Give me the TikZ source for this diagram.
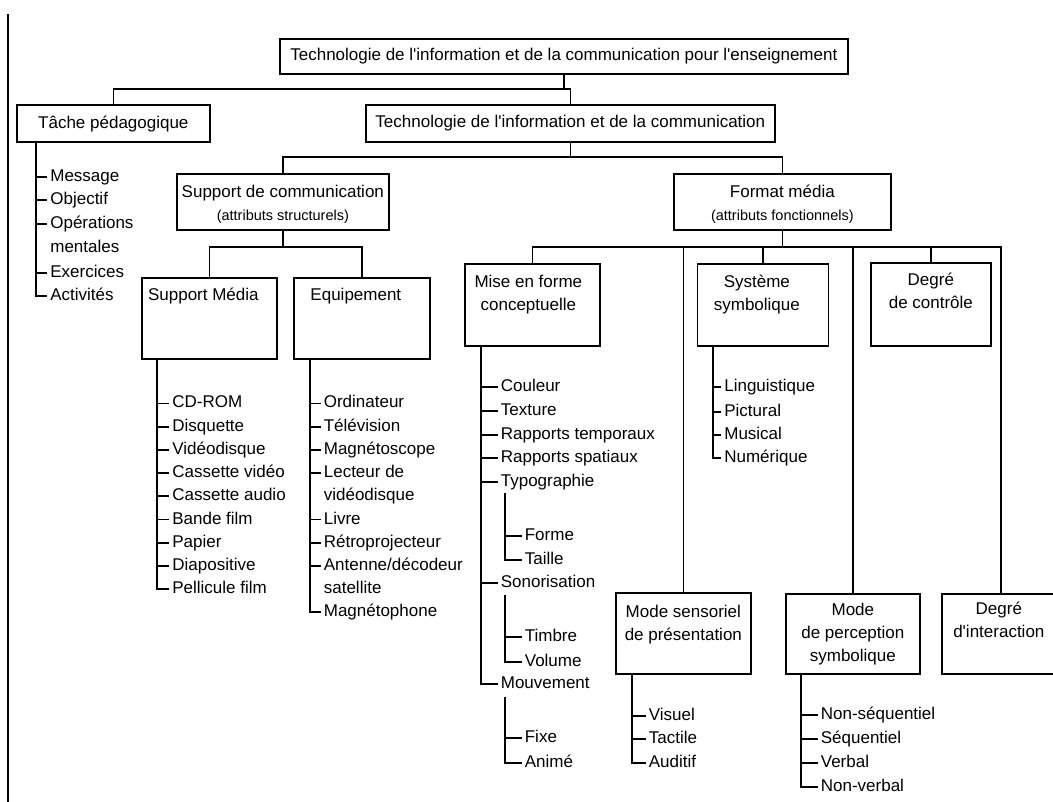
\documentclass[tikz,border=0pt]{standalone}
\usepackage{fontspec}
\setmainfont{Liberation Sans}
\usetikzlibrary{positioning}

\begin{document}
\begin{tikzpicture}[
  x=1pt, y=-1pt,
  line width=1.7pt,
  boite/.style={
    draw,
    rectangle,
    inner sep=0pt,
    anchor=north west,
    font=\fontsize{17}{23}\selectfont
  },
  titre/.style={
    align=center,
    inner sep=0pt,
    font=\fontsize{17}{23}\selectfont
  },
  item/.style={
    anchor=west,
    inner xsep=2.5pt,
    inner ysep=0pt,
    text height=12.5pt,
    text depth=3.5pt,
    font=\fontsize{17}{23}\selectfont
  }
]
\fill[white] (0,0) rectangle (1053,802);
\useasboundingbox (0,0) rectangle (1053,802);
\clip (0,0) rectangle (1053,802);

\draw (8,14) -- (8,802);

% boites
\node[boite, minimum width=568pt, minimum height=35pt] (tice) at (279,38)
  {Technologie de l\textquotesingle information et de la communication pour l\textquotesingle enseignement};
\node[boite, minimum width=193pt, minimum height=37.5pt] (tache) at (16,104) {Tâche pédagogique};
\node[boite, minimum width=409pt, minimum height=37.5pt] (tic) at (365,104)
  {Technologie de l\textquotesingle information et de la communication};
\node[boite, minimum width=212pt, minimum height=56pt] (support) at (176,173) {};
\node[boite, minimum width=217pt, minimum height=56pt] (format) at (673,173) {};
\node[boite, minimum width=135pt, minimum height=81pt] (media) at (141,277) {};
\node[boite, minimum width=136pt, minimum height=81pt] (equip) at (293,277) {};
\node[boite, minimum width=135pt, minimum height=82pt] (mise) at (464,263) {};
\node[boite, minimum width=131pt, minimum height=82pt] (systeme) at (696.5,263) {};
\node[boite, minimum width=120pt, minimum height=83pt] (controle) at (870,262) {};
\node[boite, minimum width=135pt, minimum height=81pt] (sensoriel) at (615,592) {};
\node[boite, minimum width=134pt, minimum height=80pt] (perception) at (785,593) {};
\node[boite, minimum width=118pt, minimum height=80pt] (interaction) at (941,593) {};

% textes des boites
\node[titre, below=11pt of support.north] (support-t)
  {Support de communication\\{\fontsize{14.5}{23}\selectfont (attributs structurels)}};
\node[titre, below=11pt of format.north] (format-t)
  {Format média\\{\fontsize{14.5}{23}\selectfont (attributs fonctionnels)}};
\node[titre, below=10pt of media.north, xshift=-6pt] (media-t) {Support Média};
\node[titre, below=10pt of equip.north, xshift=-6pt] (equip-t) {Equipement};
\node[titre, below=11pt of mise.north, xshift=-4pt] (mise-t) {Mise en forme\\conceptuelle};
\node[titre, below=11pt of systeme.north, xshift=-6pt] (systeme-t) {Système\\symbolique};
\node[titre, below=10pt of controle.north] (controle-t) {Degré\\de contrôle};
\node[titre, below=12pt of sensoriel.north] (sensoriel-t) {Mode sensoriel\\de présentation};
\node[titre, below=9pt of perception.north] (perception-t) {Mode\\de perception\\symbolique};
\node[titre, below=8pt of interaction.north, xshift=-2pt] (interaction-t)
  {Degré\\d\textquotesingle interaction};

% arbre
\coordinate (r1) at (0,89.3);
\coordinate (r2) at (0,157);
\coordinate (r3) at (0,247);
\draw (tice.south) -- (tice.south |- r1);
\draw (tache.north) |- (tic.north |- r1) -- (tic.north);
\draw (tic.south) -- (tic.south |- r2);
\draw (support.north) |- (format.north |- r2) -- (format.north);
\draw (support.south) -- (support.south |- r3);
\draw (media.north) |- (equip.north |- r3) -- (equip.north);
\draw (format.south) -- (format.south |- r3);
\draw (mise.north) |- (interaction.north |- r3) -- (interaction.north);
\foreach \b in {sensoriel, systeme, perception, controle}
  \draw (\b.north |- r3) -- (\b.north);

% Tache pedagogique
\coordinate (tache-b) at ([xshift=19.7pt]tache.south west);
\foreach \n/\y/\t in {1/176.7/Message, 2/200/Objectif, 3/224/Opérations, 4/248/mentales,
  5/272.7/Exercices, 6/296/Activités}
  \node[item] (tache-\n) at (47,\y) {\t};
\draw (tache-b) |- (tache-6.west);
\foreach \n in {1,2,3,5}
  \draw (tache-\n.west) -- (tache-\n.west -| tache-b);

% Support Media
\coordinate (media-b) at ([xshift=15.7pt]media.south west);
\foreach \t [count=\n] in {CD-ROM, Disquette, Vidéodisque, Cassette vidéo, Cassette audio,
  Bande film, Papier, Diapositive, Pellicule film}
  \node[item] (media-\n) at (169,{403.5+23.2*(\n-1)}) {\t};
\draw (media-b) |- (media-9.west);
\foreach \n in {1,...,8}
  \draw (media-\n.west) -- (media-\n.west -| media-b);

% Equipement
\coordinate (equip-b) at ([xshift=17pt]equip.south west);
\foreach \t [count=\n] in {Ordinateur, Télévision, Magnétoscope, Lecteur de, vidéodisque,
  Livre, Rétroprojecteur, Antenne/décodeur, satellite, Magnétophone}
  \node[item] (equip-\n) at (320.5,{403.5+23.2*(\n-1)}) {\t};
\draw (equip-b) |- (equip-10.west);
\foreach \n in {1,2,3,4,6,7,8}
  \draw (equip-\n.west) -- (equip-\n.west -| equip-b);

% Mise en forme conceptuelle
\coordinate (mise-b) at ([xshift=17pt]mise.south west);
\foreach \n/\y/\t in {1/387/Couleur, 2/411/Texture, 3/435/Rapports temporaux,
  4/458/Rapports spatiaux, 5/482/Typographie, 6/583/Sonorisation, 7/684/Mouvement}
  \node[item] (mise-\n) at (497.5,\y) {\t};
\draw (mise-b) |- (mise-7.west);
\foreach \n in {1,...,6}
  \draw (mise-\n.west) -- (mise-\n.west -| mise-b);

\foreach \n/\y/\t in {1/536/Forme, 2/560/Taille}
  \node[item] (typo-\n) at (521.5,\y) {\t};
\coordinate (typo-b) at (505,493);
\draw (typo-b) |- (typo-2.west);
\draw (typo-1.west) -- (typo-1.west -| typo-b);

\foreach \n/\y/\t in {1/637/Timbre, 2/662/Volume}
  \node[item] (sono-\n) at (521.5,\y) {\t};
\coordinate (sono-b) at (505,595);
\draw (sono-b) |- (sono-2.west);
\draw (sono-1.west) -- (sono-1.west -| sono-b);

\foreach \n/\y/\t in {1/738/Fixe, 2/763/Animé}
  \node[item] (mouv-\n) at (521.5,\y) {\t};
\coordinate (mouv-b) at (505,697);
\draw (mouv-b) |- (mouv-2.west);
\draw (mouv-1.west) -- (mouv-1.west -| mouv-b);

% Systeme symbolique
\coordinate (systeme-b) at ([xshift=16.2pt]systeme.south west);
\foreach \n/\y/\t in {1/386.7/Linguistique, 2/411.7/Pictural, 3/435/Musical, 4/458/Numérique}
  \node[item] (systeme-\n) at (721,\y) {\t};
\draw (systeme-b) |- (systeme-4.west);
\foreach \n in {1,2,3}
  \draw (systeme-\n.west) -- (systeme-\n.west -| systeme-b);

% Mode sensoriel
\coordinate (sensoriel-b) at ([xshift=16.7pt]sensoriel.south west);
\foreach \n/\y/\t in {1/716/Visuel, 2/739.3/Tactile, 3/763.3/Auditif}
  \node[item] (sensoriel-\n) at (645.5,\y) {\t};
\draw (sensoriel-b) |- (sensoriel-3.west);
\foreach \n in {1,2}
  \draw (sensoriel-\n.west) -- (sensoriel-\n.west -| sensoriel-b);

% Mode de perception
\coordinate (perception-b) at ([xshift=15.7pt]perception.south west);
\foreach \n/\y/\t in {1/715/Non-séquentiel, 2/739.3/Séquentiel, 3/763.3/Verbal, 4/786.7/Non-verbal}
  \node[item] (perception-\n) at (817.5,\y) {\t};
\draw (perception-b) |- (perception-4.west);
\foreach \n in {1,2,3}
  \draw (perception-\n.west) -- (perception-\n.west -| perception-b);
\end{tikzpicture}
\end{document}
